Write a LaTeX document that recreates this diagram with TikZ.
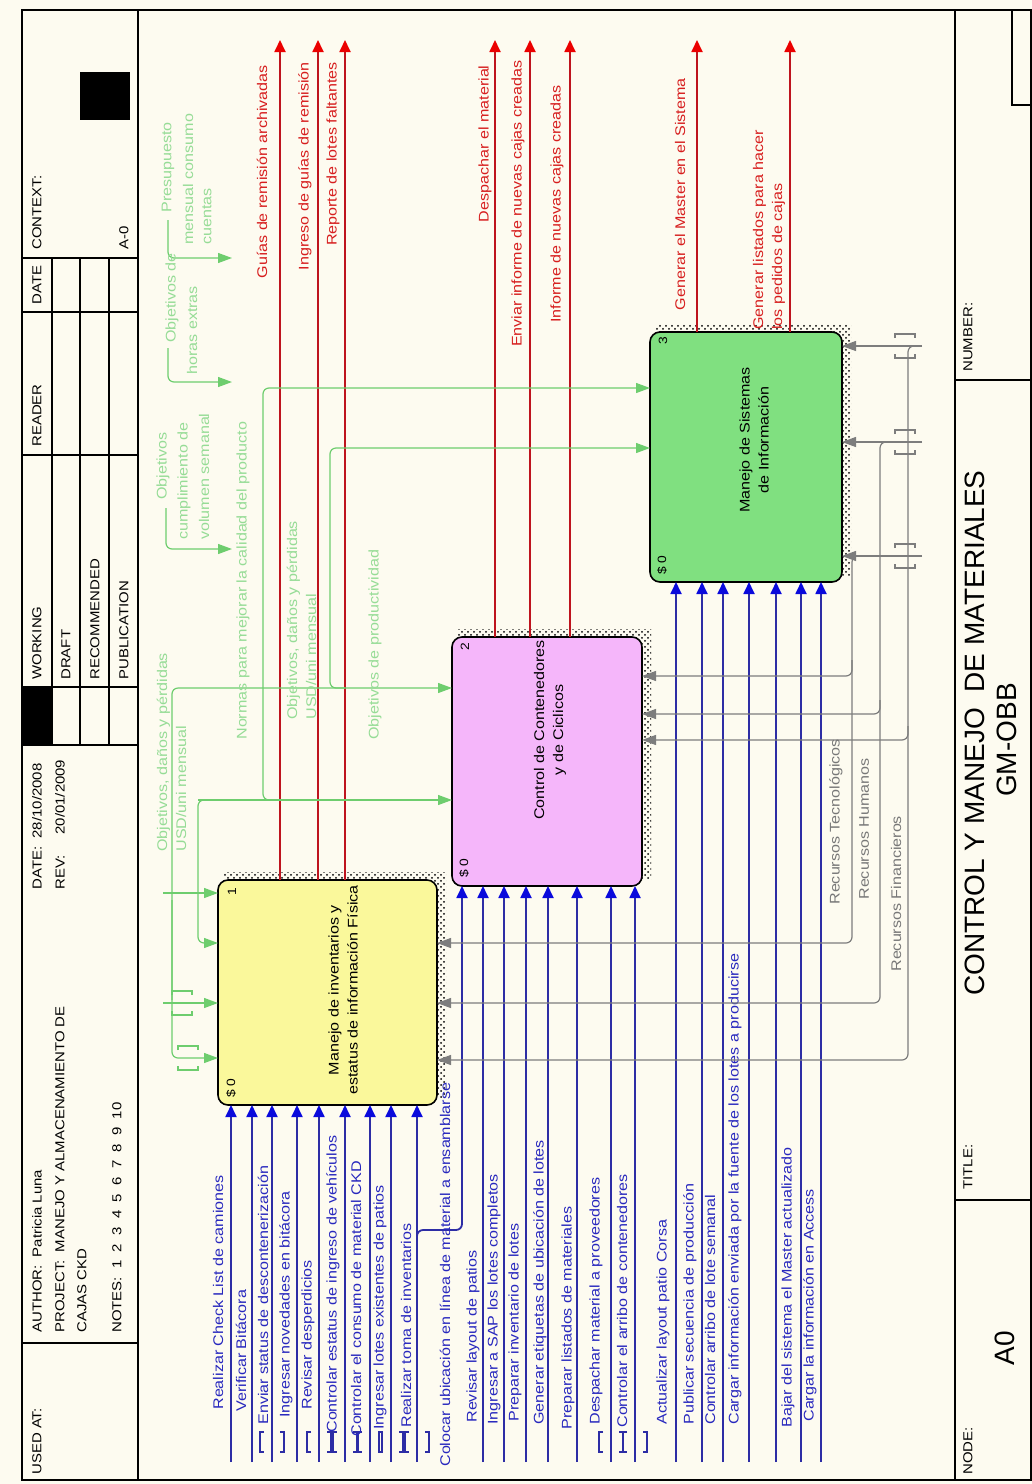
\documentclass[tikz,border=0pt]{standalone}
\usepackage{fontspec}
\setmainfont{Liberation Sans}
\newfontfamily\lblf[FakeStretch=1.15]{Liberation Sans}
\usetikzlibrary{arrows.meta,patterns}
\definecolor{bg}{RGB}{253,251,240}
\definecolor{yel}{RGB}{250,248,155}
\definecolor{pnk}{RGB}{245,182,250}
\definecolor{grn}{RGB}{128,224,128}
\definecolor{bline}{RGB}{45,45,165}
\definecolor{bhead}{RGB}{10,10,220}
\definecolor{btext}{RGB}{40,40,190}
\definecolor{rline}{RGB}{190,20,30}
\definecolor{rhead}{RGB}{235,0,0}
\definecolor{rtext}{RGB}{215,30,30}
\definecolor{gline}{RGB}{110,205,110}
\definecolor{gtext}{RGB}{150,220,150}
\definecolor{mline}{RGB}{125,125,125}
\definecolor{mtext}{RGB}{120,120,120}
\tikzset{
 lab/.style={rotate=90, inner sep=0pt, font=\lblf\fontsize{7}{9.5}\selectfont},
 inl/.style={lab, anchor=west, text=btext},
 outl/.style={lab, anchor=east, text=rtext},
 ctll/.style={lab, anchor=west, text=gtext, align=left},
 mecl/.style={lab, anchor=west, text=mtext},
 hdr/.style={rotate=90, inner sep=0pt, anchor=west, font=\lblf\fontsize{6.5}{8}\selectfont},
 frm/.style={draw=black, line width=0.75pt},
 boxst/.style={draw=black, line width=0.8pt, rounded corners=5pt, inner sep=0pt, outer sep=0pt},
 shd/.style={pattern=crosshatch dots, pattern color=black},
 inarr/.style={draw=bline, line width=0.9pt, -{Triangle[length=6pt,width=5.5pt,color=bhead]}},
 outarr/.style={draw=rline, line width=0.9pt, -{Triangle[length=6pt,width=5.5pt,color=rhead]}},
 ctlarr/.style={draw=gline, line width=0.6pt, rounded corners=3pt, -{Triangle[length=7pt,width=5pt]}},
 ctlln/.style={draw=gline, line width=0.6pt},
 mecarr/.style={draw=mline, line width=0.6pt, rounded corners=3pt, -{Triangle[length=7pt,width=5pt]}},
 tunb/.style={draw=bline, line width=0.6pt},
 tung/.style={draw=gline, line width=0.6pt},
 tunm/.style={draw=mline, line width=0.6pt},
}
\newcommand{\vtun}[3]{\draw[#1] (#2-8,#3-10) -- (#2-12,#3-10) -- (#2-12,#3+10) -- (#2-8,#3+10);
 \draw[#1] (#2+8,#3-10) -- (#2+12,#3-10) -- (#2+12,#3+10) -- (#2+8,#3+10);}
\newcommand{\htun}[3]{\draw[#1] (#2-10,#3-8) -- (#2-10,#3-12) -- (#2+10,#3-12) -- (#2+10,#3-8);
 \draw[#1] (#2-10,#3+8) -- (#2-10,#3+12) -- (#2+10,#3+12) -- (#2+10,#3+8);}
\begin{document}
\begin{tikzpicture}[x=0.5pt,y=-0.5pt]
\useasboundingbox (0,0) rectangle (1032,1484);
\fill[bg] (0,0) rectangle (1032,1484);

% ---------- frame and header ----------
\draw[frm] (22,10) rectangle (1031,1480);
\draw[frm] (138,10) -- (138,1480);
\foreach \yy in {1343,745,687,455,312,258} {\draw[frm] (22,\yy) -- (138,\yy);}
\foreach \xx in {52,80,109} {\draw[frm] (\xx,258) -- (\xx,745);}
\fill[black] (22,687) rectangle (52,745);
\fill[black] (80,72) rectangle (130,120);
\node[hdr] (usedat) at (37,1475) {USED AT:};
\node[hdr] (author) at (37,1333) {AUTHOR:\ \ Patricia Luna};
\node[hdr] (project) at (60,1333) {PROJECT:\ \ MANEJO Y ALMACENAMIENTO DE};
\node[hdr] (cajas) at (82,1333) {CAJAS CKD};
\node[hdr] (notes) at (117,1333) {NOTES:\ \ 1\ \ 2\ \ 3\ \ 4\ \ 5\ \ 6\ \ 7\ \ 8\ \ 9\ \ 10};
\node[hdr] (date1) at (37,890) {DATE:\ \ 28/10/2008};
\node[hdr] (rev) at (60,890) {REV:\ \ \ \ \ 20/01/2009};
\node[hdr] (working) at (37,680) {WORKING};
\node[hdr] (draft) at (66,680) {DRAFT};
\node[hdr] (recom) at (95,680) {RECOMMENDED};
\node[hdr] (publ) at (124,680) {PUBLICATION};
\node[hdr] (reader) at (37,447) {READER};
\node[hdr] (date2) at (37,305) {DATE};
\node[hdr] (context) at (37,250) {CONTEXT:};
\node[hdr] (actx) at (124,250) {A-0};

% ---------- footer ----------
\draw[frm] (955,10) -- (955,1480);
\draw[frm] (955,380) -- (1031,380);
\draw[frm] (955,1200) -- (1031,1200);
\draw[frm] (1012,10) -- (1012,105) -- (1031,105);
\node[hdr] (number) at (968,372) {NUMBER:};
\node[hdr] (titlel) at (968,1190) {TITLE:};
\node[hdr] (nodel) at (968,1475) {NODE:};
\node[rotate=90, inner sep=0pt, font=\fontsize{14}{16}\selectfont] (a0) at (1005,1348) {A0};
\node[rotate=90, inner sep=0pt, font=\fontsize{14}{16}\selectfont] (title) at (975,733) {CONTROL Y MANEJO\ \ DE MATERIALES};
\node[rotate=90, inner sep=0pt, font=\fontsize{14}{16}\selectfont] (gm) at (1007,740) {GM-OBB};

% ---------- boxes ----------
\fill[shd] (224,872) rectangle (446,1098);
\fill[shd] (458,629) rectangle (651,879);
\fill[shd] (656,324) rectangle (851,575);
\node[boxst, fill=yel, minimum width=109.5pt, minimum height=112.5pt] (b1) at (327.5,992.5) {};
\node[boxst, fill=pnk, minimum width=95pt, minimum height=124.5pt] (b2) at (547,761.5) {};
\node[boxst, fill=grn, minimum width=96pt, minimum height=125pt] (b3) at (746,457) {};
\node[lab, align=center] (b1t) at (343,990) {Manejo de inventarios y\\estatus de información Física};
\node[lab, align=center] (b2t) at (550,730) {Control de Contenedores\\y de Ciclicos};
\node[lab, align=center] (b3t) at (754,440) {Manejo de Sistemas\\de Información};
\node[lab, font=\lblf\fontsize{6}{7}\selectfont] (n1) at (232,892) {1};
\node[lab, font=\lblf\fontsize{6}{7}\selectfont] (n2) at (465,647) {2};
\node[lab, font=\lblf\fontsize{6}{7}\selectfont] (n3) at (663,341) {3};
\node[lab, font=\lblf\fontsize{6}{7}\selectfont] (c1) at (231,1088) {\$ 0};
\node[lab, font=\lblf\fontsize{6}{7}\selectfont] (c2) at (464,868) {\$ 0};
\node[lab, font=\lblf\fontsize{6}{7}\selectfont] (c3) at (662,565) {\$ 0};

% ---------- outputs ----------
\foreach \xx in {280,318,345} {\draw[outarr] (\xx,880) -- (\xx,40);}
\foreach \xx in {495,530,570} {\draw[outarr] (\xx,637) -- (\xx,40);}
\foreach \xx in {697,790} {\draw[outarr] (\xx,332) -- (\xx,40);}
\node[outl] (o1) at (262,65) {Guías de remisión archivadas};
\node[outl] (o2) at (305,62) {Ingreso de guías de remisión};
\node[outl] (o3) at (333,62) {Reporte de lotes faltantes};
\node[outl] (o4) at (485,65) {Despachar el material};
\node[outl] (o5) at (518,60) {Enviar informe de nuevas cajas creadas};
\node[outl] (o6) at (557,85) {Informe de nuevas cajas creadas};
\node[outl] (o7) at (680,78) {Generar el Master en el Sistema};
\node[lab, anchor=west, align=left, text=rtext] (o8) at (769,330) {Generar listados para hacer\\los pedidos de cajas};

% ---------- inputs ----------
\foreach \xx in {231,252,272,297,319,345,370,391,417} {\draw[inarr] (\xx,1462) -- (\xx,1105);}
\foreach \xx in {483,504,526,548,577,611,635} {\draw[inarr] (\xx,1462) -- (\xx,886);}
\foreach \xx in {676,702,723,749,776,801,821} {\draw[inarr] (\xx,1462) -- (\xx,582);}
\draw[inarr, rounded corners=3pt] (417,1245) -- (417,1230) -- (462,1230) -- (462,886);
\foreach \xx in {272,319,345,370,391,417,611,635} {\vtun{tunb}{\xx}{1442}}
\node[inl] (i1) at (218,1410) {Realizar Check List de camiones};
\node[inl] (i2) at (241,1412) {Verificar Bitácora};
\node[inl] (i3) at (263,1425) {Enviar status de descontenerización};
\node[inl] (i4) at (286,1418) {Ingresar novedades en bitácora};
\node[inl] (i5) at (308,1410) {Revisar desperdicios};
\node[inl] (i6) at (333,1433) {Controlar estatus de ingreso de vehículos};
\node[inl] (i7) at (356,1437) {Controlar el consumo de material CKD};
\node[inl] (i8) at (380,1430) {Ingresar lotes existentes de patios};
\node[inl] (i9) at (406,1428) {Realizar toma de inventarios};
\node[inl] (i10) at (445,1467) {Colocar ubicación en línea de material a ensamblarse};
\node[inl] (i11) at (473,1423) {Revisar layout de patios};
\node[inl] (i12) at (494,1425) {Ingresar a SAP los lotes completos};
\node[inl] (i13) at (515,1422) {Preparar inventario de lotes};
\node[inl] (i14) at (540,1425) {Generar etiquetas de ubicación de lotes};
\node[inl] (i15) at (568,1430) {Preparar listados de materiales};
\node[inl] (i16) at (596,1425) {Despachar material a proveedores};
\node[inl] (i17) at (622,1428) {Controlar el arribo de contenedores};
\node[inl] (i18) at (663,1425) {Actualizar layout patio Corsa};
\node[inl] (i19) at (690,1425) {Publicar secuencia de producción};
\node[inl] (i20) at (710,1425) {Controlar arribo de lote semanal};
\node[inl] (i21) at (735,1425) {Cargar información enviada por la fuente de los lotes a producirse};
\node[inl] (i22) at (788,1428) {Bajar del sistema el Master actualizado};
\node[inl] (i23) at (810,1422) {Cargar la información en Access};

% ---------- controls ----------
\draw[ctlarr] (168,220) -- (168,258) -- (232,258);
\draw[ctlarr] (168,348) -- (168,382) -- (232,382);
\draw[ctlarr] (166,508) -- (166,549) -- (232,549);
\node[ctll] (g1a) at (168,213) {Presupuesto};
\node[ctll] (g1b) at (188,245) {mensual consumo};
\node[ctll] (g1c) at (207,245) {cuentas};
\node[ctll] (g2a) at (172,343) {Objetivos de};
\node[ctll] (g2b) at (192,375) {horas extras};
\node[ctll] (g3a) at (163,500) {Objetivos};
\node[ctll] (g3b) at (184,540) {cumplimiento de};
\node[ctll] (g3c) at (204,540) {volumen semanal};
% network: normas
\draw[ctlarr] (280,800) -- (263,800) -- (263,388) -- (650,388);
\draw[ctlarr] (198,800) -- (452,800);
\draw[ctlarr] (215,800) -- (198,800) -- (198,943) -- (218,943);
% network: objetivos danos
\draw[ctlarr] (172,1000) -- (172,688) -- (452,688);
\draw[ctlarr] (172,900) -- (172,1058) -- (218,1058);
\draw[ctlarr] (345,688) -- (330,688) -- (330,448) -- (650,448);
\draw[ctlarr] (163,893) -- (218,893);
\draw[ctlarr] (163,1003) -- (218,1003);
\htun{tung}{182}{1003}
\htun{tung}{188}{1058}
\node[ctll] (g4) at (171.5,852) {Objetivos, daños y pérdidas\\USD/uni mensual};
\node[ctll] (g5) at (243,740) {Normas para mejorar la calidad del producto};
\node[ctll] (g6) at (301.5,720) {Objetivos, daños y pérdidas\\USD/uni mensual};
\node[ctll] (g7) at (375,740) {Objetivos de productividad};

% ---------- mechanisms ----------
\draw[mecarr] (922,346) -- (842,346);
\draw[mecarr] (922,442) -- (842,442);
\draw[mecarr] (922,556) -- (842,556);
\htun{tunm}{905}{346}
\htun{tunm}{905}{442}
\htun{tunm}{905}{556}
\draw[mecarr] (916,346) -- (908,346) -- (908,1060) -- (437,1060);
\draw[mecarr] (888,442) -- (880,442) -- (880,1003) -- (437,1003);
\draw[mecarr] (860,556) -- (852,556) -- (852,943) -- (437,943);
\draw[mecarr] (852,660) -- (852,676) -- (642,676);
\draw[mecarr] (880,700) -- (880,714) -- (642,714);
\draw[mecarr] (908,726) -- (908,740) -- (642,740);
\node[mecl] (m1) at (836,905) {Recursos Tecnológicos};
\node[mecl] (m2) at (864,900) {Recursos Humanos};
\node[mecl] (m3) at (896,972) {Recursos Financieros};
\end{tikzpicture}
\end{document}
